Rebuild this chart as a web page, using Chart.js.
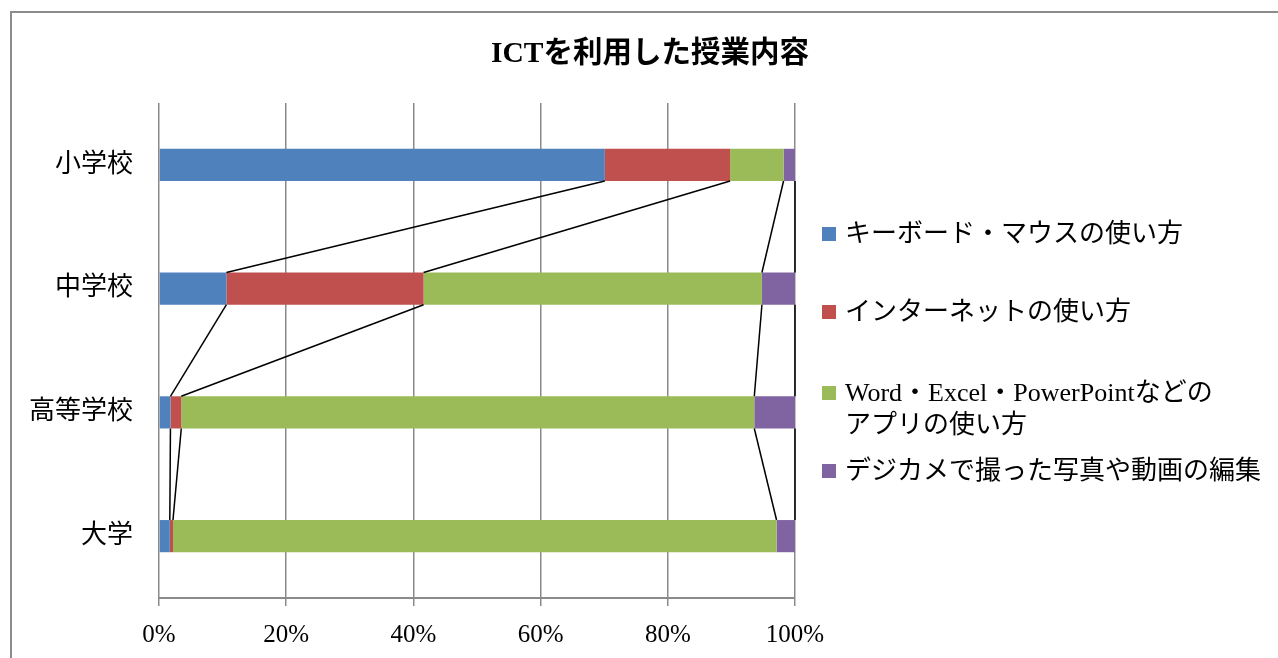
<!DOCTYPE html>
<html>
<head>
<meta charset="utf-8">
<script src="https://cdn.jsdelivr.net/npm/chart.js@4"></script>
<style>
body { margin:0; background:#fff; overflow:hidden; }
#wrap { position:relative; width:1278px; height:658px; }
#frame { position:absolute; left:10px; top:11px; width:1400px; height:700px; border-left:2px solid #8c8c8c; border-top:2px solid #8c8c8c; }
canvas { position:absolute; left:0; top:0; }
.leg { position:absolute; left:822px; font-family:"Liberation Serif","Noto Sans CJK JP",serif; font-size:26px; line-height:32px; color:#000; white-space:nowrap; }
.leg span.box { position:absolute; left:0; top:9px; width:14px; height:14px; }
.leg span.txt { position:absolute; left:23px; top:0; }
</style>
</head>
<body>
<div id="wrap">
<div id="frame"></div>
<canvas id="chart" width="1278" height="658"></canvas>
<div id="legend"></div>
</div>
<script>
const categories = ['小学校', '中学校', '高等学校', '大学'];
const seriesNames = [
    'キーボード・マウスの使い方',
    'インターネットの使い方',
    ['Word・Excel・PowerPointなどの', 'アプリの使い方'],
    'デジカメで撮った写真や動画の編集'
];
const keyboard = [70.1, 10.6, 1.8, 1.7];
const internet = [19.7, 31.0, 1.7, 0.5];
const apps     = [8.4, 53.2, 90.1, 94.9];
const camera   = [1.8, 5.2, 6.4, 2.9];
const xTicks = [0, 20, 40, 60, 80, 100];

const colors = ['#4f81bd', '#c0504d', '#9bbb59', '#8064a2'];
const values = [keyboard, internet, apps, camera];
const font = '"Liberation Serif","Noto Sans CJK JP",serif';

// Excel style series lines between the bars
const seriesLines = {
    id: 'seriesLines',
    afterDatasetsDraw(chart) {
        const ctx = chart.ctx;
        ctx.save();
        ctx.strokeStyle = '#000';
        ctx.lineWidth = 1.5;
        chart.data.datasets.forEach((ds, d) => {
            const bars = chart.getDatasetMeta(d).data;
            for (let i = 0; i < bars.length - 1; i++) {
                const a = bars[i], b = bars[i + 1];
                ctx.beginPath();
                ctx.moveTo(a.x, a.y + a.height / 2);
                ctx.lineTo(b.x, b.y - b.height / 2);
                ctx.stroke();
            }
        });
        ctx.restore();
    }
};

new Chart(document.getElementById('chart'), {
    type: 'bar',
    data: {
        labels: categories,
        datasets: values.map((v, i) => ({
            label: Array.isArray(seriesNames[i]) ? seriesNames[i].join('') : seriesNames[i],
            data: v,
            backgroundColor: colors[i],
            borderWidth: 0,
            categoryPercentage: 1,
            barPercentage: 0.26
        }))
    },
    options: {
        indexAxis: 'y',
        responsive: false,
        animation: false,
        layout: { padding: { left: 22, top: 0, right: 0, bottom: 0 } },
        plugins: {
            legend: { display: false },
            tooltip: { enabled: false },
            title: {
                display: true,
                text: 'ICTを利用した授業内容',
                color: '#000',
                font: { family: font, size: 29.5, weight: 'bold', lineHeight: 1.2 },
                padding: { top: 37, bottom: 30.6 }
            }
        },
        scales: {
            x: {
                stacked: true,
                min: 0,
                max: 100,
                afterBuildTicks: s => { s.ticks = xTicks.map(v => ({ value: v })); },
                afterFit: s => { s.height = 60; },
                grid: { color: '#8a8a8a', lineWidth: 1.5, tickLength: 8, drawTicks: true },
                border: { color: '#8a8a8a', width: 2 },
                ticks: {
                    color: '#000',
                    padding: 14,
                    maxRotation: 0,
                    font: { family: font, size: 25 },
                    callback: v => v + '%'
                }
            },
            y: {
                stacked: true,
                afterFit: s => { s.width = 137; },
                grid: { display: false, drawTicks: false },
                border: { display: false },
                ticks: { color: '#000', padding: 26, font: { family: font, size: 26 } }
            },
            y2: {
                position: 'right',
                type: 'category',
                afterFit: s => { s.width = 483; },
                grid: { display: false, drawTicks: false },
                border: { display: false },
                ticks: { display: false }
            }
        }
    },
    plugins: [seriesLines]
});

// legend on the right, drawn as html text
const legendTops = [218, 296, 377, 455];
const legend = document.getElementById('legend');
seriesNames.forEach((name, i) => {
    const item = document.createElement('div');
    item.className = 'leg';
    item.style.top = legendTops[i] + 'px';
    const box = document.createElement('span');
    box.className = 'box';
    box.style.background = colors[i];
    const txt = document.createElement('span');
    txt.className = 'txt';
    txt.innerHTML = (Array.isArray(name) ? name : [name]).join('<br>');
    item.appendChild(box);
    item.appendChild(txt);
    legend.appendChild(item);
});
</script>
</body>
</html>
